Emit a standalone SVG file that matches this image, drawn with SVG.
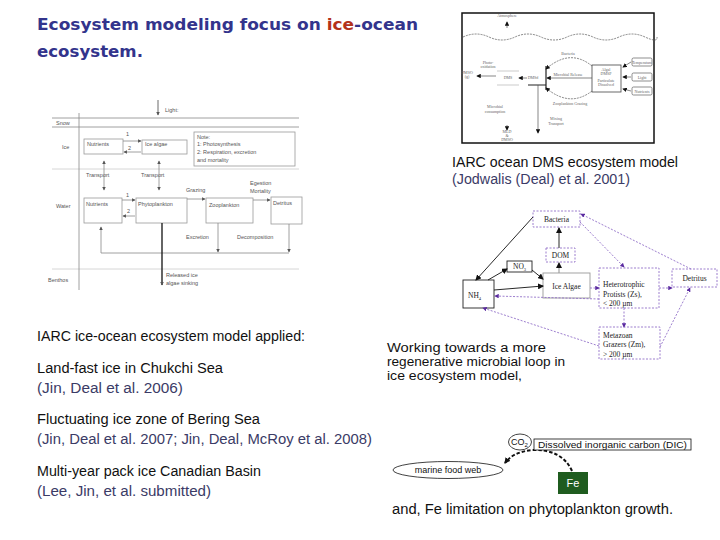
<svg xmlns="http://www.w3.org/2000/svg" width="720" height="540" viewBox="0 0 720 540">
<style>
.title{font-family:"DejaVu Sans","Liberation Sans",sans-serif;font-weight:bold;font-size:16.5px;fill:#33348c}
.t14{font-family:"Liberation Sans","DejaVu Sans",sans-serif;font-size:14px;fill:#111}
.t12{font-family:"Liberation Sans","DejaVu Sans",sans-serif;font-size:12px;fill:#111}
.cite{fill:#3b3b66}
.fig{font-family:"Liberation Sans",sans-serif;font-size:5.5px;fill:#555}
.fl{stroke:#888;stroke-width:0.8;fill:none}
.fb{fill:#fff;stroke:#999;stroke-width:0.8}
.dms{font-family:"Liberation Serif",serif;font-size:4px;fill:#666;text-anchor:middle}
.dl{stroke:#555;stroke-width:0.7;fill:none}
.br{font-family:"Liberation Serif",serif;font-size:7.5px;fill:#222}
.sol{fill:#fff;stroke:#222;stroke-width:0.9}
.das{fill:#fff;stroke:#9270c8;stroke-width:0.9;stroke-dasharray:2,1.5}
.bk{stroke:#111;stroke-width:0.9;fill:none}
.pd{stroke:#9270c8;stroke-width:0.9;stroke-dasharray:2,1.5;fill:none}
.sm{font-family:"Liberation Sans",sans-serif;font-size:9px;fill:#111}
</style>
<defs>
<marker id="ag" viewBox="0 0 6 6" refX="5" refY="3" markerWidth="3.5" markerHeight="3.5" markerUnits="userSpaceOnUse" orient="auto-start-reverse"><path d="M0,0 L6,3 L0,6z" fill="#555"/></marker>
<marker id="ak" viewBox="0 0 6 6" refX="5" refY="3" markerWidth="4.5" markerHeight="4.5" markerUnits="userSpaceOnUse" orient="auto-start-reverse"><path d="M0,0 L6,3 L0,6z" fill="#111"/></marker>
<marker id="ap" viewBox="0 0 6 6" refX="5" refY="3" markerWidth="4.5" markerHeight="4.5" markerUnits="userSpaceOnUse" orient="auto"><path d="M0,0 L6,3 L0,6z" fill="#5a2aa0"/></marker>
<marker id="ab" viewBox="0 0 6 6" refX="5" refY="3" markerWidth="6" markerHeight="6" markerUnits="userSpaceOnUse" orient="auto"><path d="M0,0 L6,3 L0,6z" fill="#111"/></marker>
</defs>
<rect width="720" height="540" fill="#fff"/>

<!-- Title -->
<g id="title">
<text class="title" x="37" y="30" textLength="381" lengthAdjust="spacingAndGlyphs">Ecosystem modeling focus on <tspan fill="#b3321a">ice</tspan>-ocean</text>
<text class="title" x="37" y="57" textLength="106" lengthAdjust="spacingAndGlyphs">ecosystem.</text>
</g>

<!-- Left ice-ocean model figure -->
<g id="ice-model-figure">
<g id="fig-frame">
<line class="fl" x1="52" y1="118" x2="299" y2="118"/>
<line class="fl" x1="52" y1="127" x2="299" y2="127"/>
<line x1="52" y1="169" x2="299" y2="169" stroke="#ccc" stroke-width="0.8"/>
<line x1="52" y1="269" x2="299" y2="269" stroke="#ccc" stroke-width="0.8"/>
<line class="fl" x1="79" y1="113" x2="79" y2="290"/>
<line x1="158" y1="100" x2="158" y2="115" stroke="#444" stroke-width="0.8" marker-end="url(#ag)"/>
<text class="fig" x="165" y="112">Light:</text>
<text class="fig" x="56" y="125">Snow</text>
<text class="fig" x="62" y="149">Ice</text>
<text class="fig" x="56" y="208">Water</text>
<text class="fig" x="48" y="282">Benthos</text>
</g>
<g id="ice-nutrients"><rect class="fb" x="84" y="139" width="39" height="15"/><text class="fig" x="87" y="146">Nutrients</text></g>
<g id="ice-algae"><rect class="fb" x="142" y="140" width="45" height="14"/><text class="fig" x="145" y="146">Ice algae</text></g>
<g id="note"><rect class="fb" x="194" y="132" width="101" height="34"/>
<text class="fig" x="197" y="139">Note:</text><text class="fig" x="197" y="146">1: Photosynthesis</text><text class="fig" x="197" y="154">2: Respiration, excretion</text><text class="fig" x="197" y="162">and mortality</text></g>
<g id="water-nutrients"><rect class="fb" x="84" y="198" width="38" height="25"/><text class="fig" x="86" y="206">Nutrients</text></g>
<g id="phytoplankton"><rect class="fb" x="136" y="198" width="51" height="25"/><text class="fig" x="138" y="206">Phytoplankton</text></g>
<g id="zooplankton"><rect class="fb" x="206" y="198" width="47" height="25"/><text class="fig" x="209" y="207">Zooplankton</text></g>
<g id="detritus-fig"><rect class="fb" x="271" y="197" width="31" height="27"/><text class="fig" x="273" y="205">Detritus</text></g>
<g id="fig-connectors">
<line class="fl" x1="123" y1="141" x2="141" y2="141" marker-end="url(#ag)"/>
<line class="fl" x1="141" y1="152" x2="124" y2="152" marker-end="url(#ag)"/>
<text class="fig" x="126" y="136">1</text><text class="fig" x="128" y="150">2</text>
<line class="fl" x1="122" y1="200" x2="135" y2="200" marker-end="url(#ag)"/>
<line class="fl" x1="135" y1="216" x2="123" y2="216" marker-end="url(#ag)"/>
<text class="fig" x="126" y="197">1</text><text class="fig" x="127" y="213">2</text>
<line class="fl" x1="104" y1="161" x2="104" y2="190" marker-start="url(#ag)" marker-end="url(#ag)"/>
<line class="fl" x1="159" y1="161" x2="159" y2="190" marker-start="url(#ag)" marker-end="url(#ag)"/>
<text class="fig" x="86" y="177">Transport</text><text class="fig" x="141" y="177">Transport</text>
<line class="fl" x1="187" y1="199" x2="205" y2="199" marker-end="url(#ag)"/>
<text class="fig" x="186" y="192">Grazing</text>
<line class="fl" x1="253" y1="200" x2="270" y2="200" marker-end="url(#ag)"/>
<text class="fig" x="250" y="185">Egestion</text><text class="fig" x="250" y="193">Mortality</text>
<line class="fl" x1="218" y1="223" x2="218" y2="252" marker-end="url(#ag)"/>
<line class="fl" x1="289" y1="224" x2="289" y2="252" marker-end="url(#ag)"/>
<polyline class="fl" points="289,253 101,253 101,227" marker-end="url(#ag)"/>
<text class="fig" x="186" y="239">Excretion</text><text class="fig" x="237" y="239">Decomposition</text>
<line x1="162" y1="223" x2="162" y2="285" stroke="#111" stroke-width="1.3" marker-end="url(#ag)"/>
<text class="fig" x="166" y="277">Released ice</text><text class="fig" x="166" y="285">algae sinking</text>
</g>
</g>

<!-- Top-right DMS figure -->
<g id="dms-figure">
<rect x="462" y="13" width="192" height="130" fill="#fff" stroke="#111" stroke-width="1.5"/>
<text class="dms" x="507" y="17">Atmosphere</text>
<line class="dl" x1="507" y1="28" x2="507" y2="22" marker-end="url(#ak)"/>
<path class="dl" stroke-dasharray="2,1" d="M463,37 q13,-6 26,0 t26,0 t26,0 t26,0 t26,0 t26,0 t26,0 t12,0"/>
<g id="dms-algal"><rect x="592" y="65" width="29" height="27" fill="#fff" stroke="#444" stroke-width="0.8"/>
<text class="dms" x="606" y="71">Algal</text><text class="dms" x="606" y="75">DMSP</text><text class="dms" x="606" y="82">Particulate</text><text class="dms" x="606" y="86">Dissolved</text></g>
<g id="dms-in1"><rect x="632" y="58" width="20" height="8" rx="1.5" fill="#fff" stroke="#444" stroke-width="0.6"/><text class="dms" x="642" y="63.5">Temperature</text></g>
<g id="dms-in2"><rect x="632" y="73" width="20" height="8" rx="1.5" fill="#fff" stroke="#444" stroke-width="0.6"/><text class="dms" x="642" y="78.5">Light</text></g>
<g id="dms-in3"><rect x="632" y="87" width="20" height="8" rx="1.5" fill="#fff" stroke="#444" stroke-width="0.6"/><text class="dms" x="642" y="92.5">Nutrients</text></g>
<g id="dms-pool"><path d="M528,85 H546 M546,66 V90" stroke="#222" stroke-width="1.2" fill="none"/><text class="dms" x="533" y="79">DMSd</text></g>
<g id="dms-mid"><path d="M497,71 H519 M497,85 H519" stroke="#aaa" stroke-width="0.6"/><text class="dms" x="508" y="79">DMS</text></g>
<g id="dms-connectors">
<path class="dl" stroke-dasharray="2,1" d="M592,66 Q570,48 546,69" marker-end="url(#ak)"/>
<text class="dms" x="568" y="55">Bacteria</text>
<path class="dl" stroke-dasharray="2,1" d="M592,91 Q570,108 546,88" marker-end="url(#ak)"/>
<text class="dms" x="570" y="105">Zooplankton Grazing</text>
<line class="dl" x1="592" y1="78" x2="547" y2="78" marker-end="url(#ak)"/>
<text class="dms" x="568" y="76">Microbial Release</text>
<line class="dl" x1="631" y1="62" x2="623" y2="67" marker-end="url(#ak)"/>
<line class="dl" x1="631" y1="77" x2="623" y2="77" marker-end="url(#ak)"/>
<line class="dl" x1="631" y1="91" x2="623" y2="89" marker-end="url(#ak)"/>
<line class="dl" stroke-width="1" x1="527" y1="78" x2="519" y2="78" marker-end="url(#ak)"/>
<line class="dl" stroke-width="1" x1="496" y1="76" x2="477" y2="76" marker-end="url(#ak)"/>
<text class="dms" x="488" y="64">Photo-</text><text class="dms" x="488" y="68">oxidation</text>
<text class="dms" x="467" y="74">DMSO</text><text class="dms" x="467" y="78">(g)</text>
<text class="dms" x="495" y="108">Microbial</text><text class="dms" x="495" y="113">consumption</text>
<line class="dl" x1="538" y1="85" x2="538" y2="133" marker-end="url(#ak)"/>
<text class="dms" x="556" y="120">Mixing</text><text class="dms" x="556" y="125">Transport</text>
<line class="dl" x1="507" y1="125" x2="507" y2="130" marker-end="url(#ak)"/>
<text class="dms" x="507" y="133">MLD</text><text class="dms" x="507" y="137">&amp;</text><text class="dms" x="507" y="141">DMSO</text>
</g>
</g>
<g id="dms-caption">
<text class="t14" x="452" y="167" textLength="226" lengthAdjust="spacingAndGlyphs">IARC ocean DMS ecosystem model</text>
<text class="t14 cite" x="452" y="184" textLength="178" lengthAdjust="spacingAndGlyphs">(Jodwalis (Deal) et al. 2001)</text>
</g>

<!-- Bottom-right microbial loop figure -->
<g id="loop-figure">
<g id="bacteria"><rect class="das" x="533" y="211" width="47" height="16"/><text class="br" x="556.5" y="221.5" text-anchor="middle">Bacteria</text></g>
<g id="dom"><rect class="das" x="546" y="248" width="29" height="14"/><text class="br" x="560.5" y="257.5" text-anchor="middle">DOM</text></g>
<g id="no3"><rect class="sol" x="507" y="261" width="25" height="11"/><text class="br" x="513" y="269">NO<tspan font-size="4.5" dy="1.5">3</tspan></text></g>
<g id="ice-algae-loop"><rect x="543" y="273" width="47" height="25" fill="#fff" stroke="#999" stroke-width="0.9"/><text class="br" x="566.5" y="288.5" text-anchor="middle">Ice Algae</text></g>
<g id="nh4"><rect class="sol" x="463" y="280" width="31" height="28"/><text class="br" x="468" y="298">NH<tspan font-size="4.5" dy="1.5">4</tspan></text></g>
<g id="hetero"><rect class="das" x="599" y="268" width="60" height="40"/>
<text class="br" x="603" y="287">Heterotrophic</text><text class="br" x="603" y="296.5">Protists (Zs),</text><text class="br" x="603" y="306">&lt; 200 µm</text></g>
<g id="detritus"><rect class="das" x="672" y="269" width="45" height="18"/><text class="br" x="694.5" y="280.5" text-anchor="middle">Detritus</text></g>
<g id="metazoan"><rect class="das" x="599" y="327" width="61" height="32"/>
<text class="br" x="603" y="337.5">Metazoan</text><text class="br" x="603" y="347">Grazers (Zm),</text><text class="br" x="603" y="356.5">&gt; 200 µm</text></g>
<g id="loop-connectors">
<line class="bk" x1="533" y1="217" x2="476" y2="280" marker-end="url(#ab)"/>
<line class="bk" x1="488" y1="280" x2="507" y2="269" marker-end="url(#ab)"/>
<line class="bk" x1="532" y1="270" x2="543" y2="279" marker-end="url(#ab)"/>
<line class="bk" x1="494" y1="290" x2="543" y2="286" marker-end="url(#ab)"/>
<line x1="559" y1="273" x2="559" y2="263" stroke="#999" stroke-width="1.1" marker-end="url(#ab)"/>
<line class="bk" stroke-width="1.1" x1="559" y1="248" x2="559" y2="228" marker-end="url(#ab)"/>
<line class="pd" x1="590" y1="288" x2="599" y2="288" marker-end="url(#ap)"/>
<line class="pd" x1="580" y1="222" x2="624" y2="267" marker-end="url(#ap)"/>
<line class="pd" x1="691" y1="269" x2="581" y2="214" marker-end="url(#ap)"/>
<line class="pd" x1="659" y1="288" x2="672" y2="288" marker-end="url(#ap)"/>
<line class="pd" x1="599" y1="299" x2="495" y2="296" marker-end="url(#ap)"/>
<line class="pd" x1="624" y1="308" x2="624" y2="327" marker-end="url(#ap)"/>
<line class="pd" x1="599" y1="346" x2="483" y2="308" marker-end="url(#ap)"/>
<line class="pd" x1="660" y1="347" x2="690" y2="288" marker-end="url(#ap)"/>
</g>
</g>
<g id="loop-caption">
<text class="t12" x="387" y="352" textLength="159" lengthAdjust="spacingAndGlyphs">Working towards a more</text>
<text class="t12" x="387" y="366" textLength="178" lengthAdjust="spacingAndGlyphs">regenerative microbial loop in</text>
<text class="t12" x="387" y="380" textLength="135" lengthAdjust="spacingAndGlyphs">ice ecosystem model,</text>
</g>

<!-- Left bottom text -->
<g id="applied-text">
<text class="t14" x="37" y="341" textLength="268" lengthAdjust="spacingAndGlyphs">IARC ice-ocean ecosystem model applied:</text>
<text class="t14" x="37" y="373" textLength="186" lengthAdjust="spacingAndGlyphs">Land-fast ice in Chukchi Sea</text>
<text class="t14 cite" x="37" y="393" textLength="146" lengthAdjust="spacingAndGlyphs">(Jin, Deal et al. 2006)</text>
<text class="t14" x="37" y="424" textLength="223" lengthAdjust="spacingAndGlyphs">Fluctuating ice zone of Bering Sea</text>
<text class="t14 cite" x="37" y="444" textLength="335" lengthAdjust="spacingAndGlyphs">(Jin, Deal et al. 2007; Jin, Deal, McRoy et al. 2008)</text>
<text class="t14" x="37" y="476" textLength="224" lengthAdjust="spacingAndGlyphs">Multi-year pack ice Canadian Basin</text>
<text class="t14 cite" x="37" y="496" textLength="174" lengthAdjust="spacingAndGlyphs">(Lee, Jin, et al. submitted)</text>
</g>

<!-- Carbon / Fe -->
<g id="fe-connectors">
<path d="M572,471 Q562,449 532,450 Q513,452 505,463" fill="none" stroke="#111" stroke-width="2" stroke-dasharray="3.5,2" marker-end="url(#ab)"/>
</g>
<g id="co2"><ellipse cx="520" cy="442" rx="11.5" ry="8" fill="#fff" stroke="#111" stroke-width="0.8"/><text class="sm" x="511" y="445">CO<tspan font-size="6" dy="2">2</tspan></text></g>
<g id="dic"><rect x="534" y="439" width="157" height="11" fill="#fff" stroke="#111" stroke-width="0.8"/><text class="sm" x="538" y="448" textLength="149" lengthAdjust="spacingAndGlyphs">Dissolved inorganic carbon (DIC)</text></g>
<g id="marine-food-web"><ellipse cx="448" cy="470" rx="55" ry="8.5" fill="#fff" stroke="#111" stroke-width="0.8"/><text class="sm" x="448" y="473" text-anchor="middle">marine food web</text></g>
<g id="fe"><rect x="558" y="472" width="30" height="22" fill="#1f5c1f"/><text x="573" y="487" text-anchor="middle" font-family="Liberation Sans,sans-serif" font-size="11" fill="#fff">Fe</text></g>
<text class="t14" x="392" y="514" textLength="281" lengthAdjust="spacingAndGlyphs">and, Fe limitation on phytoplankton growth.</text>
</svg>
